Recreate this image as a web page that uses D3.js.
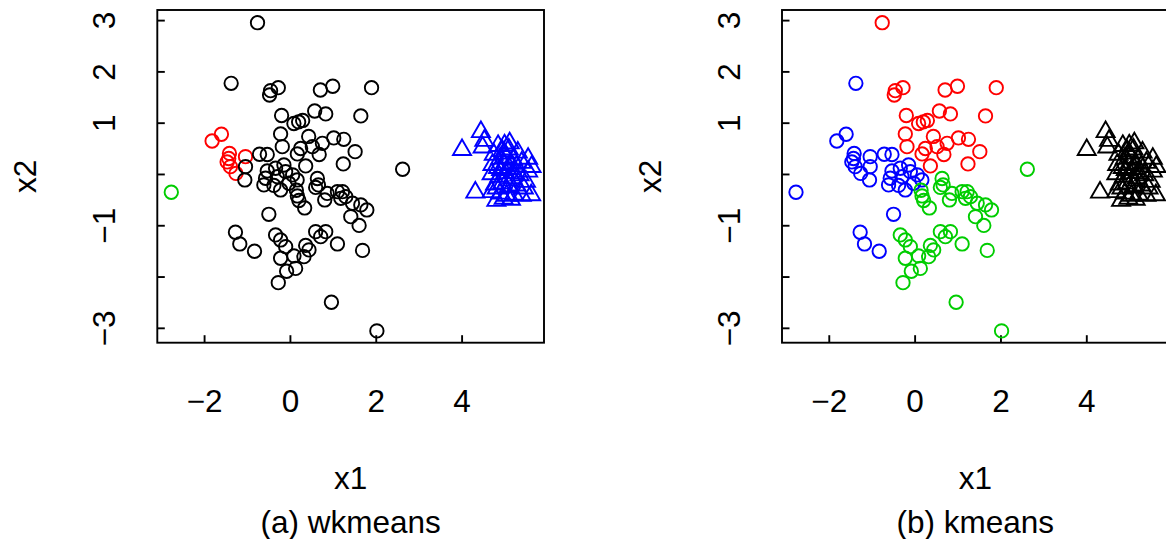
<!DOCTYPE html>
<html>
<head>
<meta charset="utf-8">
<script src="https://cdnjs.cloudflare.com/ajax/libs/d3/7.8.5/d3.min.js"></script>
<style>
  body { margin: 0; background: #fff; }
  svg { display: block; font-family: "Liberation Sans", Arial, sans-serif; }
</style>
</head>
<body>
<svg width="1166" height="539"></svg>
<script>
// points, grouped by the kmeans colour they get in panel (b)
var redX1 = [-0.755, -0.451, -0.474, -0.271, 0.710, 0.998, 1.902, -0.194, 0.577, 0.834,
             1.652, 0.093, 0.203, 0.297, -0.217, 0.437, 1.021, 1.255, -0.178, 0.250,
             0.523, 0.757, 0.173, 0.682, 1.519, 0.367, 1.243];
var redX2 = [2.949, 1.624, 1.540, 1.682, 1.637, 1.710, 1.682, 1.140, 1.228, 1.170,
             1.131, 0.984, 1.014, 1.043, 0.780, 0.731, 0.702, 0.676, 0.532, 0.497,
             0.532, 0.598, 0.390, 0.380, 0.435, 0.156, 0.195];

var blueX1 = [-1.369, -1.813, -1.596, -1.409, -1.425, -1.463, -1.386, -1.257, -1.035, -1.035,
              -1.051, -0.708, -0.528, -0.528, -0.334, -0.140, -0.100, -0.568, -0.294, 0.063,
              0.168, -0.607, -0.374, -0.217, -0.023, -2.764, -0.491, -1.269, -1.168, -0.825];
var blueX2 = [1.768, 0.643, 0.774, 0.400, 0.302, 0.234, 0.142, 0.010, 0.337, 0.142,
              -0.117, 0.384, 0.380, 0.058, 0.111, 0.175, 0.045, -0.084, -0.053, -0.019,
              -0.117, -0.214, -0.224, -0.312, -0.181, -0.357, -0.786, -1.136, -1.365, -1.507];
// wkmeans cluster of each of these (1 black, 2 red, 3 green)
var blueWk = [1, 2, 2, 2, 2, 2, 2, 2, 2, 1,
              1, 1, 1, 1, 1, 1, 1, 1, 1, 1,
              1, 1, 1, 1, 1, 3, 1, 1, 1, 1];

var greenX1 = [0.150, 0.173, 0.210, 0.640, 0.664, 0.600, 0.343, 0.811, 0.869, 1.107,
               1.224, 1.185, 1.301, 1.458, 1.418, 1.652, 1.792, 1.612, 2.626, -0.334,
               -0.217, -0.100, 0.600, 0.717, 0.834, 0.367, 0.444, 0.327, 1.107, -0.217,
               0.093, 0.133, -0.077, 1.692, -0.271, 0.967, 2.026];
var greenX2 = [-0.318, -0.429, -0.517, -0.088, -0.214, -0.263, -0.663, -0.507, -0.380, -0.345,
               -0.345, -0.474, -0.442, -0.571, -0.832, -0.604, -0.702, -1.004, 0.092, -1.189,
               -1.287, -1.417, -1.125, -1.222, -1.125, -1.394, -1.481, -1.612, -1.365, -1.643,
               -1.598, -1.842, -1.897, -1.491, -2.119, -2.501, -3.060];

// second class (triangles)
var triX1 = [4.01, 4.45, 4.53, 4.49, 4.32, 5.62, 4.81, 5.12, 5.31, 5.55, 5.63,
             4.85, 5.00, 5.10, 4.95, 4.75, 4.90, 5.05, 5.20, 4.72, 4.85, 5.00,
             5.12, 5.28, 5.40, 4.70, 4.88, 5.02, 5.18, 5.35, 4.78, 4.95, 5.10,
             5.28, 5.45, 4.70, 4.90, 5.05, 5.22, 5.40, 4.98, 5.15, 5.55, 5.50,
             4.92, 5.08, 5.22, 4.82, 5.00, 5.15];
var triX2 = [0.47, 0.82, 0.65, 0.52, -0.36, -0.41, -0.52, 0.60, 0.42, 0.30, 0.14,
             0.55, 0.56, 0.48, 0.45, 0.38, 0.30, 0.32, 0.28, 0.18, 0.12, 0.18,
             0.10, 0.15, 0.22, 0.00, -0.05, 0.02, -0.08, -0.02, -0.20, -0.18, -0.25,
             -0.22, -0.28, -0.35, -0.38, -0.42, -0.40, -0.42, -0.48, -0.50, 0.05, -0.15,
             0.08, -0.12, 0.02, -0.28, 0.40, 0.20];

var xDomain = [-3.09, 5.92];
var yDomain = [-3.29, 3.197];
var xTicks = [-2, 0, 2, 4];
var yTicks = [-3, -2, -1, 0, 1, 2, 3];
var yLabels = [3, 2, 1, -1, -3];

var palette = ["black", "red", "#00CD00", "blue"];

var plotTop = 10, plotW = 386.7, plotH = 332.7;
var fontPx = "31.5px";
var radius = 6.7;
var lw = 1.9;

var panels = [
    {left: 157.3, method: "wkmeans", caption: "(a) wkmeans"},
    {left: 782, method: "kmeans", caption: "(b) kmeans"}
];

// one row per point
var rows = [];
redX1.forEach(function(v, i){ rows.push({x1: v, x2: redX2[i], tri: false, kmeans: 2, wkmeans: 1}); });
blueX1.forEach(function(v, i){ rows.push({x1: v, x2: blueX2[i], tri: false, kmeans: 4, wkmeans: blueWk[i]}); });
greenX1.forEach(function(v, i){ rows.push({x1: v, x2: greenX2[i], tri: false, kmeans: 3, wkmeans: 1}); });
triX1.forEach(function(v, i){ rows.push({x1: v, x2: triX2[i], tri: true, kmeans: 1, wkmeans: 4}); });

var svg = d3.select("svg");
var fmt = d3.format("d");

panels.forEach(function(p){
    var g = svg.append("g");

    var x = d3.scaleLinear().domain(xDomain).range([p.left, p.left + plotW]);
    var y = d3.scaleLinear().domain(yDomain).range([plotTop + plotH, plotTop]);
    var bottom = plotTop + plotH;

    // x axis, ticks point inwards
    var ax = g.append("g")
        .attr("transform", "translate(0," + bottom + ")")
        .call(d3.axisBottom(x).tickValues(xTicks).tickSize(-7.5).tickSizeOuter(0).tickFormat(fmt));
    ax.select(".domain").remove();
    ax.selectAll("line").attr("stroke", "#000").attr("stroke-width", lw);
    ax.selectAll("text")
        .attr("dy", null)
        .attr("y", 412.5 - bottom)
        .attr("fill", "#000")
        .style("font-size", fontPx)
        .style("font-family", "'Liberation Sans', Arial, sans-serif");

    // y axis with rotated labels
    var ay = g.append("g")
        .attr("transform", "translate(" + p.left + ",0)")
        .call(d3.axisLeft(y).tickValues(yTicks).tickSize(-7.5).tickSizeOuter(0)
            .tickFormat(function(d){ return yLabels.indexOf(d) >= 0 ? fmt(d) : ""; }));
    ay.select(".domain").remove();
    ay.selectAll("line").attr("stroke", "#000").attr("stroke-width", lw);
    ay.selectAll("text")
        .attr("x", null)
        .attr("dy", null)
        .attr("text-anchor", "middle")
        .attr("transform", "translate(-42,0) rotate(-90)")
        .attr("fill", "#000")
        .style("font-size", fontPx)
        .style("font-family", "'Liberation Sans', Arial, sans-serif");

    // box
    g.append("rect")
        .attr("x", p.left)
        .attr("y", plotTop)
        .attr("width", plotW)
        .attr("height", plotH)
        .attr("fill", "none")
        .attr("stroke", "#000")
        .attr("stroke-width", lw);

    // points
    g.selectAll(".pt")
        .data(rows)
        .enter()
        .append("path")
        .attr("class", "pt")
        .attr("transform", function(d){ return "translate(" + x(d.x1) + "," + y(d.x2) + ")"; })
        .attr("d", function(d){
            return d3.symbol()
                .type(d.tri ? d3.symbolTriangle : d3.symbolCircle)
                .size(Math.PI * radius * radius)();
        })
        .attr("fill", "none")
        .attr("stroke", function(d){ return palette[d[p.method] - 1]; })
        .attr("stroke-width", lw);

    var cx = p.left + plotW / 2;

    g.append("text")
        .attr("x", cx)
        .attr("y", 489)
        .attr("text-anchor", "middle")
        .style("font-size", fontPx)
        .text("x1");

    g.append("text")
        .attr("x", cx)
        .attr("y", 533)
        .attr("text-anchor", "middle")
        .style("font-size", fontPx)
        .text(p.caption);

    g.append("text")
        .attr("transform", "translate(" + (p.left - 121) + "," + (plotTop + plotH / 2) + ") rotate(-90)")
        .attr("text-anchor", "middle")
        .style("font-size", fontPx)
        .text("x2");
});
</script>
</body>
</html>
